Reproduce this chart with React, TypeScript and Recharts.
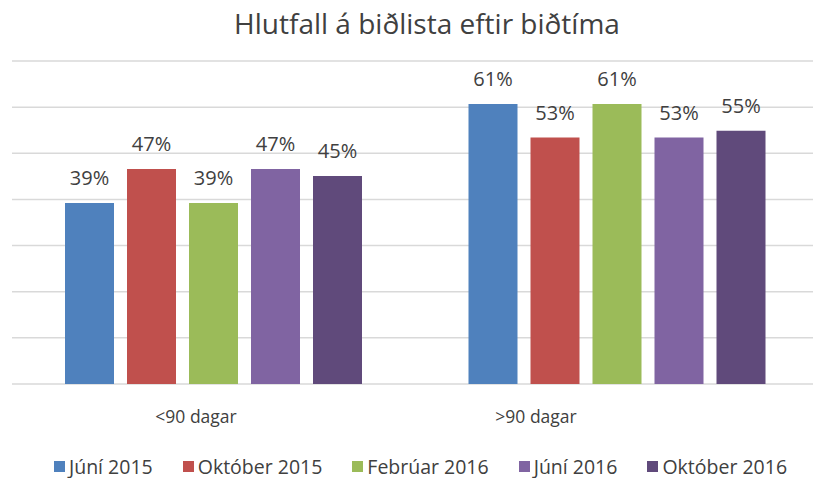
import React from "react";
import { BarChart, Bar, XAxis, YAxis, CartesianGrid, Legend, LabelList } from "recharts";

const categories = ["<90 dagar", ">90 dagar"];
const seriesNames = ["Júní 2015", "Október 2015", "Febrúar 2016", "Júní 2016", "Október 2016"];
const juni2015 = [39.2, 60.7];
const oktober2015 = [46.6, 53.4];
const februar2016 = [39.2, 60.7];
const juni2016 = [46.6, 53.4];
const oktober2016 = [45.1, 54.9];
const yTicks = [0, 10, 20, 30, 40, 50, 60, 70];
const title = "Hlutfall á biðlista eftir biðtíma";

const seriesValues = [juni2015, oktober2015, februar2016, juni2016, oktober2016];
const colors = ["#4F81BD", "#C0504D", "#9BBB59", "#8064A2", "#604A7B"];
const keys = ["s0", "s1", "s2", "s3", "s4"];

const data = categories.map((cat, i) => {
  const row: Record<string, any> = { cat };
  seriesValues.forEach((vals, j) => {
    row[keys[j]] = vals[i];
  });
  return row;
});

const FONT = "'Open Sans', sans-serif";
const TEXT = "#404040";

const LegendContent = () => (
  <div style={{ display: "flex", justifyContent: "center", alignItems: "center", gap: 30, fontFamily: FONT, fontSize: 19.5, color: TEXT, height: 24 }}>
    {seriesNames.map((n, i) => (
      <div key={n} style={{ display: "flex", alignItems: "center" }}>
        <span style={{ display: "inline-block", width: 11, height: 11, background: colors[i], marginRight: 4 }} />
        <span>{n}</span>
      </div>
    ))}
  </div>
);

export default function App() {
  return (
    <div style={{ position: "absolute", left: 0, top: 0, width: 813, height: 478, overflow: "hidden", background: "#fff" }}>
      <div style={{ position: "absolute", left: 0, top: 4, width: 854, textAlign: "center", fontFamily: FONT, fontSize: 28, color: TEXT, lineHeight: "38px" }}>
        {title}
      </div>
      <BarChart width={830} height={478} data={data} margin={{ top: 61, right: 11, left: 12, bottom: 0 }} barCategoryGap={53} barGap={13}>
        <CartesianGrid vertical={false} stroke="#d9d9d9" strokeWidth={1.5} />
        <YAxis hide domain={[0, 70]} ticks={yTicks} />
        <XAxis xAxisId="bars" dataKey="cat" hide height={0} />
        <XAxis
          xAxisId="labels"
          dataKey="cat"
          height={70}
          axisLine={false}
          tickLine={false}
          tickSize={0}
          tickMargin={27}
          padding={{ left: 14, right: 113 }}
          tick={{ fill: TEXT, fontSize: 17.5, fontFamily: FONT }}
        />
        <Legend verticalAlign="bottom" content={<LegendContent />} wrapperStyle={{ left: 0, width: 841, bottom: 0 }} />
        {keys.map((k, i) => (
          <Bar key={k} dataKey={k} name={seriesNames[i]} xAxisId="bars" fill={colors[i]} isAnimationActive={false}>
            <LabelList
              dataKey={k}
              position="top"
              offset={18}
              formatter={(v: any) => `${Math.round(Number(v))}%`}
              style={{ fill: TEXT, fontSize: 20, fontFamily: FONT }}
            />
          </Bar>
        ))}
      </BarChart>
    </div>
  );
}
